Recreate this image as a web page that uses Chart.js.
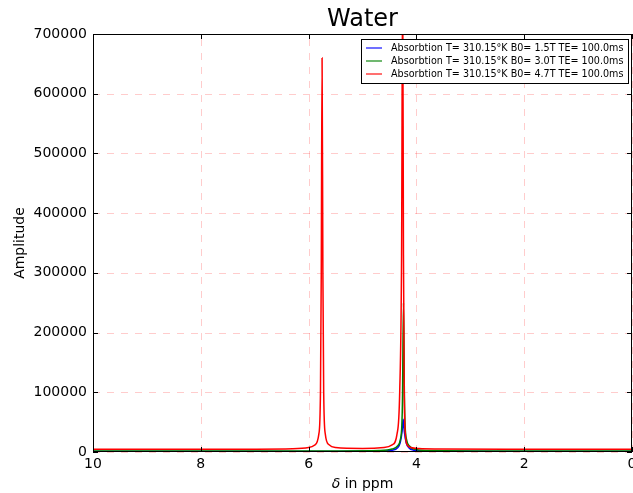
<!DOCTYPE html>
<html>
<head>
<meta charset="utf-8">
<script src="https://cdn.jsdelivr.net/npm/chart.js@4.4.1/dist/chart.umd.min.js"></script>
<style>
  html, body { margin: 0; padding: 0; background: #fff; }
  #wrap { width: 633px; height: 493px; }
</style>
</head>
<body>
<div id="wrap"><canvas id="myChart"></canvas></div>
<script>
// chemical shift (ppm) and amplitude
var ppmBlue  = [10, 7, 5.5, 4.7, 4.45, 4.35, 4.3, 4.265, 4.245, 4.225, 4.19, 4.14, 4.05, 3.8, 2, 0];
var ampBlue  = [800, 900, 1000, 1500, 3000, 7000, 16000, 35000, 55000, 35000, 16000, 7000, 3000, 1500, 900, 800];

var ppmGreen = [10, 7, 5.5, 4.7, 4.45, 4.35, 4.3, 4.27, 4.258, 4.24, 4.222, 4.21, 4.18, 4.13, 4.05, 3.8, 2, 0];
var ampGreen = [1500, 1600, 1800, 2500, 5000, 10000, 20000, 45000, 90000, 250000, 90000, 45000, 20000, 10000, 5000, 2500, 1600, 1500];

var ppmRed   = [10, 7, 6.3, 6.0, 5.88, 5.81, 5.78, 5.765, 5.75, 5.735, 5.72, 5.69, 5.62, 5.5, 5.0,
                4.6, 4.45, 4.36, 4.31, 4.275, 4.255, 4.24, 4.225, 4.205, 4.17, 4.1, 3.95, 3.6, 2, 0];
var ampRed   = [4500, 4800, 5500, 7500, 12000, 30000, 100000, 300000, 660000, 300000, 100000, 30000, 12000, 7500, 6000,
                7500, 12000, 30000, 100000, 330000, 800000, 330000, 100000, 30000, 12000, 7500, 5700, 5000, 4600, 4500];

var seriesLabels = [
  'Absorbtion T= 310.15°K B0= 1.5T TE= 100.0ms',
  'Absorbtion T= 310.15°K B0= 3.0T TE= 100.0ms',
  'Absorbtion T= 310.15°K B0= 4.7T TE= 100.0ms'
];
var xTicks = [10, 8, 6, 4, 2, 0];
var yTicks = [0, 100000, 200000, 300000, 400000, 500000, 600000, 700000];

function pts(xs, ys) {
  var out = [];
  for (var i = 0; i < xs.length; i++) out.push({x: xs[i], y: ys[i]});
  return out;
}

var FONT = "'DejaVu Sans', sans-serif";

// dashed pink grid under the lines
var gridPlugin = {
  id: 'dashgrid',
  beforeDatasetsDraw: function(chart) {
    var ctx = chart.ctx, a = chart.chartArea;
    var xs = chart.scales.x, ys = chart.scales.y;
    ctx.save();
    ctx.strokeStyle = 'rgba(255,0,0,0.2)';
    ctx.lineWidth = 1;
    ctx.setLineDash([7, 7]);
    ctx.beginPath();
    xTicks.forEach(function(v) {
      var px = Math.round(xs.getPixelForValue(v)) + 0.5;
      ctx.moveTo(px, a.bottom); ctx.lineTo(px, a.top);
    });
    yTicks.forEach(function(v) {
      var py = Math.round(ys.getPixelForValue(v)) + 0.5;
      ctx.moveTo(a.left, py); ctx.lineTo(a.right, py);
    });
    ctx.stroke();
    ctx.restore();
  }
};

// matplotlib-like frame: full black box, inward ticks, title, x label, legend box
var framePlugin = {
  id: 'frame',
  afterDraw: function(chart) {
    var ctx = chart.ctx, a = chart.chartArea;
    var xs = chart.scales.x, ys = chart.scales.y;
    ctx.save();
    ctx.strokeStyle = '#000';
    ctx.lineWidth = 1;
    ctx.strokeRect(a.left + 0.5, a.top + 0.5, a.right - a.left - 1, a.bottom - a.top - 1);
    ctx.beginPath();
    xTicks.forEach(function(v) {
      var px = Math.round(xs.getPixelForValue(v)) + 0.5;
      ctx.moveTo(px, a.bottom); ctx.lineTo(px, a.bottom - 5);
      ctx.moveTo(px, a.top); ctx.lineTo(px, a.top + 5);
    });
    yTicks.forEach(function(v) {
      var py = Math.round(ys.getPixelForValue(v)) + 0.5;
      ctx.moveTo(a.left, py); ctx.lineTo(a.left + 5, py);
      ctx.moveTo(a.right, py); ctx.lineTo(a.right - 5, py);
    });
    ctx.stroke();

    // title
    ctx.fillStyle = '#000';
    ctx.font = '24px ' + FONT;
    ctx.textAlign = 'center';
    ctx.textBaseline = 'middle';
    ctx.fillText('Water', (a.left + a.right) / 2, 20);

    // x axis label with italic delta
    var cx = (a.left + a.right) / 2;
    ctx.font = 'italic 14px ' + FONT;
    var w1 = ctx.measureText('δ').width;
    ctx.font = '14px ' + FONT;
    var w2 = ctx.measureText(' in ppm').width;
    var sx = cx - (w1 + w2) / 2;
    ctx.textAlign = 'left';
    ctx.font = 'italic 14px ' + FONT;
    ctx.fillText('δ', sx, 484);
    ctx.font = '14px ' + FONT;
    ctx.fillText(' in ppm', sx + w1, 484);

    // legend
    var bx = 361.5, by = 39.5, bw = 267, bh = 44;
    ctx.fillStyle = '#fff';
    ctx.fillRect(bx, by, bw, bh);
    ctx.strokeStyle = '#000';
    ctx.strokeRect(bx, by, bw, bh);
    ctx.font = '9.6px ' + FONT;
    chart.data.datasets.forEach(function(ds, i) {
      var y = 48 + i * 13;
      ctx.strokeStyle = ds.borderColor;
      ctx.globalAlpha = 0.75;
      ctx.lineWidth = 1.5;
      ctx.beginPath();
      ctx.moveTo(366, y); ctx.lineTo(382, y);
      ctx.stroke();
      ctx.globalAlpha = 1;
      ctx.fillStyle = '#000';
      ctx.fillText(ds.label, 391, y + 0.5);
    });
    ctx.restore();
  }
};

var ctx = document.getElementById('myChart').getContext('2d');
var myChart = new Chart(ctx, {
  type: 'line',
  data: {
    datasets: [{
      label: seriesLabels[0],
      data: pts(ppmBlue, ampBlue),
      borderColor: '#0000ff',
      order: 3
    }, {
      label: seriesLabels[1],
      data: pts(ppmGreen, ampGreen),
      borderColor: '#008000',
      order: 2
    }, {
      label: seriesLabels[2],
      data: pts(ppmRed, ampRed),
      borderColor: '#ff0000',
      order: 1
    }]
  },
  options: {
    responsive: true,
    maintainAspectRatio: false,
    animation: false,
    layout: { padding: { top: 34, right: 1, left: 0, bottom: 0 } },
    elements: {
      point: { radius: 0 },
      line: { borderWidth: 1.5, tension: 0.25, cubicInterpolationMode: 'monotone' }
    },
    plugins: {
      legend: { display: false },
      tooltip: { enabled: false },
      title: { display: false }
    },
    scales: {
      x: {
        type: 'linear',
        reverse: true,
        min: 0, max: 10,
        afterBuildTicks: function(s) { s.ticks = xTicks.map(function(v) { return {value: v}; }); },
        afterFit: function(s) { s.height = 41; s.paddingLeft = 0; s.paddingRight = 0; },
        grid: { display: false, drawTicks: false },
        border: { display: false },
        ticks: { color: '#000', font: { family: FONT, size: 14 }, padding: 4, maxRotation: 0 }
      },
      y: {
        type: 'linear',
        min: 0, max: 700000,
        afterBuildTicks: function(s) { s.ticks = yTicks.map(function(v) { return {value: v}; }); },
        afterFit: function(s) { s.width = 93; s.paddingTop = 0; s.paddingBottom = 0; },
        grid: { display: false, drawTicks: false },
        border: { display: false },
        ticks: {
          color: '#000',
          font: { family: FONT, size: 14 },
          padding: 6,
          callback: function(v) { return String(v); }
        },
        title: {
          display: true,
          text: 'Amplitude',
          color: '#000',
          font: { family: FONT, size: 14 },
          padding: { top: 12, bottom: 0 }
        }
      }
    }
  },
  plugins: [gridPlugin, framePlugin]
});
</script>
</body>
</html>
